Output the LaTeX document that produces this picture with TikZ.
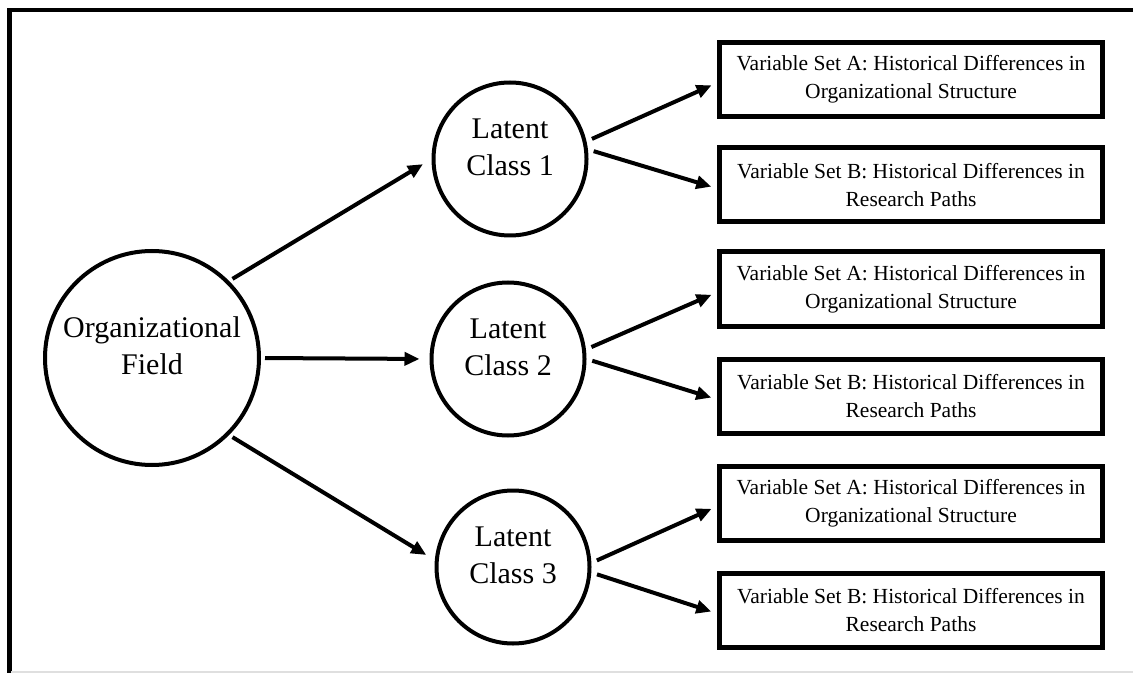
\documentclass[tikz,border=0pt]{standalone}
\usepackage{fontspec}
\setmainfont{Liberation Serif}
\usetikzlibrary{arrows.meta}
\usetikzlibrary{positioning}
\usetikzlibrary{calc}
\tikzstyle{fieldvertex}=[circle,draw,line width=2pt,minimum size=107pt,inner sep=0pt,font=\fontsize{15}{18.5}\selectfont]
\tikzstyle{classvertex}=[circle,draw,line width=2pt,minimum size=76.5pt,inner sep=0pt,font=\fontsize{15}{18.5}\selectfont]
\tikzstyle{setbox}=[rectangle,draw,line width=2.5pt,minimum width=191.5pt,minimum height=37pt,inner sep=0pt,font=\fontsize{10.75}{14}\selectfont,align=center]
\tikzstyle{edge}=[draw,line width=2pt,-{Triangle[length=7.5pt,width=6.5pt]},shorten <=2pt,shorten >=5pt]
\tikzstyle{frame}=[line width=2.2pt]
\newcommand{\uptext}[1]{\raisebox{4.5pt}[\height][\depth]{\begin{tabular}{@{}c@{}}#1\end{tabular}}}

\begin{document}
\begin{tikzpicture}[x=0.5pt,y=-0.5pt]
    \useasboundingbox (0,0) rectangle (1133,673);
    % frame round the figure
    \draw[frame] (9.3,673) -- (9.3,10.3) -- (1133,10.3);
    \draw[gray!25, line width=1pt] (11,671.5) -- (1133,671.5);

    % the field and the three latent classes
    \node[fieldvertex] (field) at (152,358) {\uptext{Organizational\\Field}};
    \foreach \pos/\name/\num in {{(510,159)/class1/1}, {(508,359)/class2/2}, {(513,567)/class3/3}}
        \node[classvertex] (\name) at \pos {\uptext{Latent\\Class \num}};

    % variable sets
    \foreach \y/\name in {79.5/setA1, 289/setA2, 503/setA3}
        \node[setbox] (\name) at (911,\y) {Variable Set A: Historical Differences in\\Organizational Structure};
    \foreach \y/\name in {185/setB1, 396/setB2, 610/setB3}
        \node[setbox] (\name) at (911,\y) {Variable Set B: Historical Differences in\\Research Paths};

    % connect field to classes, classes to sets
    \path[edge] (field.45) -- (class1.west);
    \path[edge] (field.east) -- (class2.west);
    \path[edge] (field.-45) -- (class3.175);
    \foreach \k/\up/\dn in {1/13/7, 2/7/0, 3/3/-4}{
        \path[edge,shorten <=3pt,shorten >=3pt] (class\k.\up) -- (setA\k.181);
        \path[edge,shorten <=3pt,shorten >=3pt] (class\k.\dn) -- (setB\k.181);
    }
\end{tikzpicture}
\end{document}
